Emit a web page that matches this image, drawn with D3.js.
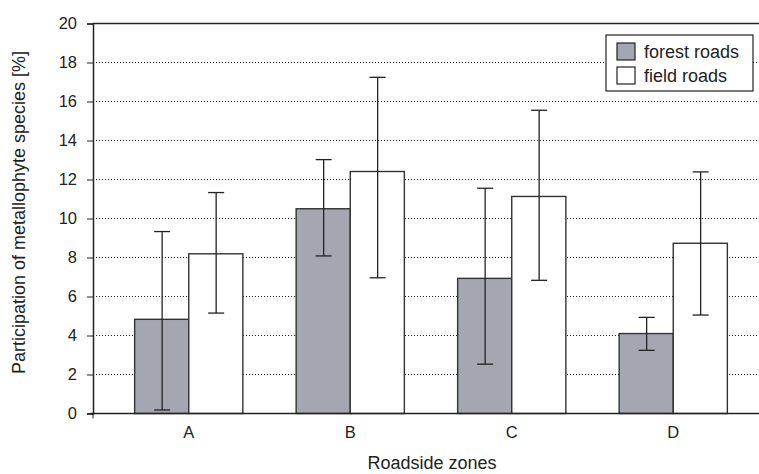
<!DOCTYPE html>
<html>
<head>
<meta charset="utf-8">
<script src="https://cdn.jsdelivr.net/npm/d3@7"></script>
<style>
  body { margin: 0; background: #fff; }
  svg { display: block; font-family: 'Liberation Sans', Arial, sans-serif; }
</style>
</head>
<body>
<div class="chart"></div>
<script>
const zones = ['A', 'B', 'C', 'D'];
const seriesNames = ['forest roads', 'field roads'];
const forestMean = [4.83, 10.5, 6.93, 4.1];
const forestLow = [0.18, 8.08, 2.53, 3.24];
const forestHigh = [9.33, 13.02, 11.55, 4.93];
const fieldMean = [8.19, 12.41, 11.13, 8.73];
const fieldLow = [5.15, 6.96, 6.83, 5.05];
const fieldHigh = [11.33, 17.24, 15.55, 12.39];
const yTicks = [0, 2, 4, 6, 8, 10, 12, 14, 16, 18, 20];

const width = 759;
const height = 474;
const fills = ['#a5a7b0', '#ffffff'];
const ink = '#222';

const root = d3.select('.chart').append('svg').attr('width', width).attr('height', height);

const y = d3.scaleLinear().domain([0, 20]).range([413.5, 23.5]);
const x = d3.scaleBand().domain(zones).range([108, 754]).paddingInner(0.33).paddingOuter(0.165);
const xs = d3.scaleBand().domain(seriesNames).range([0, x.bandwidth()]);

// dotted gridlines
root
  .append('g')
  .selectAll('line')
  .data(yTicks.filter((d) => d > 0 && d < 20))
  .join('line')
  .attr('x1', 93)
  .attr('x2', width)
  .attr('y1', (d) => y(d))
  .attr('y2', (d) => y(d))
  .attr('stroke', ink)
  .attr('stroke-width', 1)
  .attr('stroke-dasharray', '1,2');

// top border
root.append('line').attr('x1', 93).attr('x2', width).attr('y1', y(20)).attr('y2', y(20)).attr('stroke', ink).attr('stroke-width', 1.5);

const rows = zones.map((z, i) => [
  {zone: z, s: seriesNames[0], v: forestMean[i], lo: forestLow[i], hi: forestHigh[i], c: fills[0]},
  {zone: z, s: seriesNames[1], v: fieldMean[i], lo: fieldLow[i], hi: fieldHigh[i], c: fills[1]},
]);

const groups = root
  .append('g')
  .selectAll('g')
  .data(rows)
  .join('g')
  .attr('transform', (d) => `translate(${x(d[0].zone)},0)`);

groups
  .selectAll('rect')
  .data((d) => d)
  .join('rect')
  .attr('x', (d) => xs(d.s))
  .attr('y', (d) => y(d.v))
  .attr('width', xs.bandwidth())
  .attr('height', (d) => y(0) - y(d.v))
  .attr('fill', (d) => d.c)
  .attr('stroke', '#333')
  .attr('stroke-width', 1.4);

const err = groups
  .selectAll('g.err')
  .data((d) => d)
  .join('g')
  .attr('class', 'err')
  .attr('stroke', ink)
  .attr('stroke-width', 1.3);

const cx = (d) => Math.round(xs(d.s) + xs.bandwidth() / 2) + 0.5;
err.append('line').attr('x1', cx).attr('x2', cx).attr('y1', (d) => y(d.lo)).attr('y2', (d) => y(d.hi));
err.append('line').attr('x1', (d) => cx(d) - 8).attr('x2', (d) => cx(d) + 8).attr('y1', (d) => y(d.lo)).attr('y2', (d) => y(d.lo));
err.append('line').attr('x1', (d) => cx(d) - 8).attr('x2', (d) => cx(d) + 8).attr('y1', (d) => y(d.hi)).attr('y2', (d) => y(d.hi));

// axes
const yAxis = root
  .append('g')
  .attr('transform', 'translate(93,0)')
  .call(d3.axisLeft(y).tickValues(yTicks).tickSize(6).tickPadding(10));
yAxis.select('.domain').attr('stroke', ink).attr('stroke-width', 1.5);
yAxis.selectAll('.tick line').attr('stroke', ink);
yAxis.selectAll('text').attr('font-size', 16.5).attr('fill', ink).attr('font-family', 'Liberation Sans, Arial, sans-serif');

const xAxis = root
  .append('g')
  .attr('transform', `translate(0,${y(0)})`)
  .call(d3.axisBottom(x).tickSize(0).tickPadding(13));
xAxis.select('.domain').remove();
xAxis.selectAll('text').attr('font-size', 16.5).attr('fill', ink).attr('font-family', 'Liberation Sans, Arial, sans-serif');
root.append('line').attr('x1', 90).attr('x2', width).attr('y1', y(0)).attr('y2', y(0)).attr('stroke', ink).attr('stroke-width', 1.5);
root.append('line').attr('x1', 93).attr('x2', 93).attr('y1', y(0)).attr('y2', y(0) + 5).attr('stroke', ink);

// axis titles
root
  .append('text')
  .attr('transform', `translate(25,${y(10) - 6}) rotate(-90)`)
  .attr('text-anchor', 'middle')
  .attr('font-size', 18)
  .attr('fill', ink)
  .text('Participation of metallophyte species [%]');
root
  .append('text')
  .attr('x', 432)
  .attr('y', 469)
  .attr('text-anchor', 'middle')
  .attr('font-size', 18)
  .attr('fill', ink)
  .text('Roadside zones');

// legend
const legend = root.append('g').attr('transform', 'translate(606,35)');
legend.append('rect').attr('width', 147).attr('height', 56).attr('fill', '#fff').attr('stroke', ink).attr('stroke-width', 1.2);
const item = legend
  .selectAll('g')
  .data(seriesNames)
  .join('g')
  .attr('transform', (d, i) => `translate(11,${8 + i * 24})`);
item.append('rect').attr('width', 18).attr('height', 17).attr('fill', (d, i) => fills[i]).attr('stroke', ink).attr('stroke-width', 1.2);
item.append('text').attr('x', 27).attr('y', 15).attr('font-size', 18).attr('fill', ink).text((d) => d);
</script>
</body>
</html>
